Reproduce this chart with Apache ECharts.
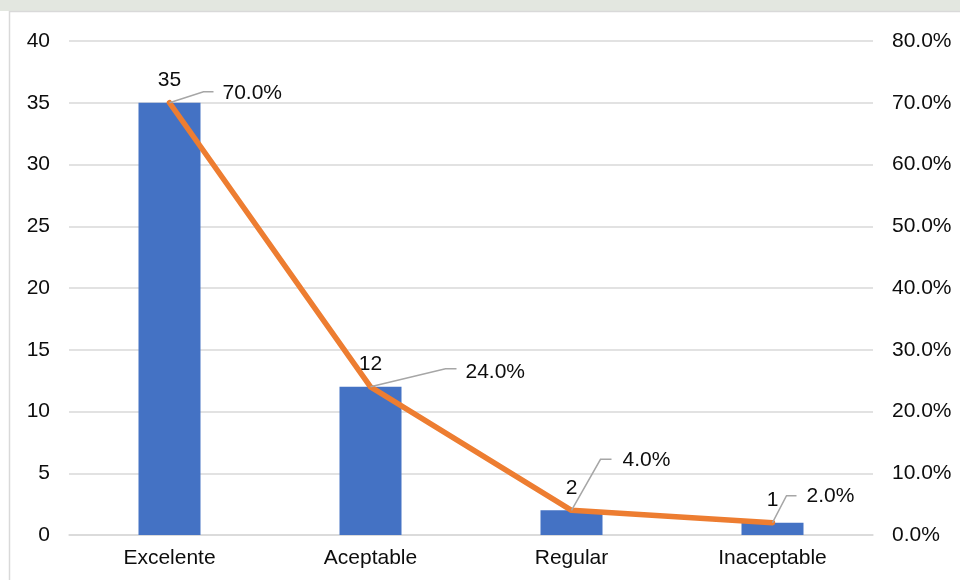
<!DOCTYPE html>
<html>
<head>
<meta charset="utf-8">
<script src="https://cdn.jsdelivr.net/npm/echarts@6/dist/echarts.min.js"></script>
<style>html,body{margin:0;padding:0;background:#fff}#c{width:960px;height:580px}</style>
</head>
<body>
<div id="c"></div>
<script>
const categories = ['Excelente', 'Aceptable', 'Regular', 'Inaceptable'];
const counts = [35, 12, 2, 1];
const percents = [70.0, 24.0, 4.0, 2.0];

// leader-line layout (pixel offsets from the point): bend, end, text-left, text-dy
const leaderLayout = [
  { bend: [34, -11], end: [44, -11], text: [53, -10] },
  { bend: [75, -18], end: [86, -18], text: [95, -15] },
  { bend: [29, -51], end: [40, -51], text: [51, -50] },
  { bend: [14, -27], end: [24, -27], text: [34, -26] }
];

const FONT = '"Liberation Sans", Arial, sans-serif';
const FS = 21;
const TXT = '#0d0d0d';

const chart = echarts.init(document.getElementById('c'), null, { renderer: 'canvas' });
chart.setOption({
  animation: false,
  backgroundColor: '#fff',
  textStyle: { fontFamily: FONT },
  graphic: [
    { type: 'rect', shape: { x: 0, y: 0, width: 960, height: 11 }, style: { fill: '#E3E7E0' }, z: -10 },
    { type: 'rect', shape: { x: 9.5, y: 11.5, width: 970, height: 600 }, style: { fill: 'none', stroke: '#D9D9D9', lineWidth: 1.5 }, z: -5 }
  ],
  grid: { left: 69, right: 87, top: 41, bottom: 45, outerBoundsMode: 'none' },
  xAxis: {
    type: 'category',
    data: categories,
    axisTick: { show: false },
    axisLine: { lineStyle: { color: '#D9D9D9', width: 1.5 } },
    axisLabel: { color: TXT, fontSize: FS, fontFamily: FONT, margin: 13 }
  },
  yAxis: [
    {
      type: 'value', min: 0, max: 40, interval: 5,
      axisLine: { show: false }, axisTick: { show: false },
      splitLine: { lineStyle: { color: '#D9D9D9', width: 1.5 } },
      axisLabel: { color: TXT, fontSize: FS, fontFamily: FONT, margin: 19 }
    },
    {
      type: 'value', min: 0, max: 80, interval: 10,
      axisLine: { show: false }, axisTick: { show: false },
      splitLine: { show: false },
      axisLabel: { color: TXT, fontSize: FS, fontFamily: FONT, margin: 19,
        formatter: v => v.toFixed(1) + '%' }
    }
  ],
  series: [
    {
      type: 'bar',
      data: counts,
      barWidth: 62,
      itemStyle: { color: '#4472C4' },
      label: { show: true, position: 'top', distance: 12, color: TXT, fontSize: FS, fontFamily: FONT },
      z: 2
    },
    {
      type: 'line',
      yAxisIndex: 1,
      data: percents,
      showSymbol: false,
      lineStyle: { color: '#ED7D31', width: 5.5, cap: 'round', join: 'round' },
      itemStyle: { color: '#ED7D31' },
      z: 3
    },
    {
      type: 'custom',
      yAxisIndex: 1,
      data: percents.map((p, i) => [i, p]),
      z: 4,
      renderItem: function (params, api) {
        const i = api.value(0);
        const p = api.value(1);
        const pt = api.coord([i, p]);
        const L = leaderLayout[params.dataIndex];
        return {
          type: 'group',
          children: [
            {
              type: 'polyline',
              shape: { points: [
                [pt[0], pt[1]],
                [pt[0] + L.bend[0], pt[1] + L.bend[1]],
                [pt[0] + L.end[0], pt[1] + L.end[1]]
              ] },
              style: { stroke: '#A6A6A6', lineWidth: 1.5, fill: 'none' }
            },
            {
              type: 'text',
              x: pt[0] + L.text[0],
              y: pt[1] + L.text[1],
              style: {
                text: p.toFixed(1) + '%',
                fill: TXT,
                font: FS + 'px ' + FONT,
                align: 'left',
                verticalAlign: 'middle'
              }
            }
          ]
        };
      }
    }
  ]
});
</script>
</body>
</html>
